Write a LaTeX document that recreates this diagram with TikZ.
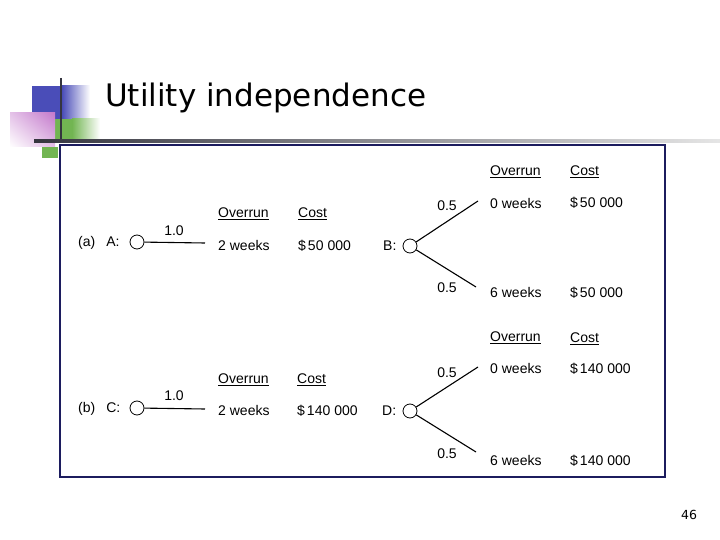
\documentclass[tikz,border=0pt]{standalone}
\usepackage{fontspec}
\setmainfont{DejaVu Sans}
\newfontfamily\treefont{Liberation Sans}
\usepackage{tikz}
\usetikzlibrary{positioning,calc,shadings}
\definecolor{boxnavy}{HTML}{1C1C5E}
\definecolor{barblue}{HTML}{4A4DB8}
\definecolor{bargreen}{HTML}{72B552}
\definecolor{barpink}{HTML}{C47ACC}
\definecolor{rulegray}{HTML}{35353F}
\newcommand{\amt}[2]{\$\hspace{2pt}#1\hspace{4pt}#2}
\tikzset{
  chance/.style={circle, draw, thick, minimum size=14pt, inner sep=0pt},
  txt/.style={font=\treefont\fontsize{14}{16}\selectfont, anchor=west, inner sep=0pt},
  hdr/.style={txt},
  prob/.style={font=\treefont\fontsize{14}{16}\selectfont, inner sep=0pt},
  branch/.style={draw, line width=1.1pt},
  title/.style={font=\fontsize{31}{34}\selectfont, anchor=west, inner sep=0pt}
}

\begin{document}
\begin{tikzpicture}[x=1pt, y=-1pt]
  \useasboundingbox (0,0) rectangle (720,540);
  % corner blocks
  \fill[barblue] (32,86) rectangle (62,119);
  \shade[left color=barblue, right color=white] (62,86) rectangle (90,119);
  \fill[bargreen] (55,119) rectangle (72,141);
  \shade[left color=bargreen, right color=white] (72,119) rectangle (100,141);
  \shade[upper right=barpink, upper left=barpink!45, lower left=white, lower right=barpink!50] (10,113) rectangle (55,147);
  \fill[bargreen] (42,147) rectangle (58,158);
  \draw[rulegray, line width=1.6pt] (61,78) -- (61,142);
  \shade[left color=rulegray, right color=gray!20] (34,139.5) rectangle (720,142.5);
  \draw[boxnavy, line width=1.2pt] (60,145) rectangle (665,477);

  \node[title] (ttl) at (105,98) {Utility independence};
  \node[font=\fontsize{12.5}{14}\selectfont] (pg) at (689,515) {46};

  % (a)
  \node[txt] (lbla) at (78,243) {(a)\hspace{11pt}A:};
  \node[chance] (A) at (137,242) {};
  \coordinate (aend) at (205,243);
  \draw[branch] (A) -- (aend);
  \node[prob] (pa) at (174,231) {1.0};
  \node[hdr] (ovra) at (218,214) {\underline{Overrun}};
  \node[hdr] (csta) at (298,214) {\underline{Cost}};
  \node[txt] (wka) at (218,245) {2 weeks};
  \node[txt] (ca) at (298,246) {\amt{50}{000}};

  \node[txt] (lblb) at (383,246) {B:};
  \node[chance] (B) at (410,246) {};
  \coordinate (bup) at (478,201);
  \coordinate (bdn) at (476,287);
  \draw[branch] (B) -- (bup);
  \draw[branch] (B) -- (bdn);
  \node[prob] (pb1) at (447,206) {0.5};
  \node[prob] (pb2) at (447,288) {0.5};
  \node[hdr] (ovrb) at (490,172) {\underline{Overrun}};
  \node[hdr] (cstb) at (570,172) {\underline{Cost}};
  \node[txt] (wkb1) at (490,203) {0 weeks};
  \node[txt] (cb1) at (570,203) {\amt{50}{000}};
  \node[txt] (wkb2) at (490,292) {6 weeks};
  \node[txt] (cb2) at (570,293) {\amt{50}{000}};

  % (b)
  \node[txt] (lblc) at (78,409) {(b)\hspace{11pt}C:};
  \node[chance] (C) at (137,408) {};
  \coordinate (cend) at (205,409);
  \draw[branch] (C) -- (cend);
  \node[prob] (pc) at (174,396) {1.0};
  \node[hdr] (ovrc) at (218,380) {\underline{Overrun}};
  \node[hdr] (cstc) at (297,380) {\underline{Cost}};
  \node[txt] (wkc) at (218,410) {2 weeks};
  \node[txt] (cc) at (297,411) {\amt{140}{000}};

  \node[txt] (lbld) at (382,411) {D:};
  \node[chance] (D) at (410,411) {};
  \coordinate (dup) at (478,367);
  \coordinate (ddn) at (476,452);
  \draw[branch] (D) -- (dup);
  \draw[branch] (D) -- (ddn);
  \node[prob] (pd1) at (447,373) {0.5};
  \node[prob] (pd2) at (447,454) {0.5};
  \node[hdr] (ovrd) at (490,338) {\underline{Overrun}};
  \node[hdr] (cstd) at (570,339) {\underline{Cost}};
  \node[txt] (wkd1) at (490,368) {0 weeks};
  \node[txt] (cd1) at (570,369) {\amt{140}{000}};
  \node[txt] (wkd2) at (490,460) {6 weeks};
  \node[txt] (cd2) at (570,461) {\amt{140}{000}};
\end{tikzpicture}
\end{document}
